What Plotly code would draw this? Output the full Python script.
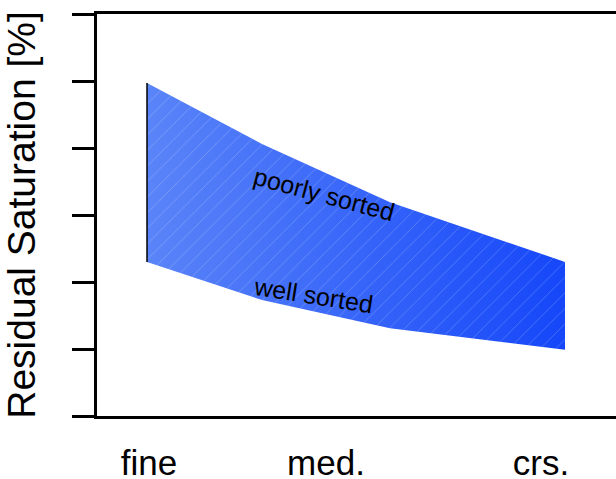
import plotly.graph_objects as go

# grain size position (arbitrary units) and residual saturation
grain_x = [0.5, 1.65, 2.93, 4.68]
poorly_sorted = [4.97, 4.06, 3.19, 2.30]
well_sorted = [2.30, 1.73, 1.31, 0.99]

tick_pos = [0.52, 2.29, 4.44]
tick_text = ["fine", "med.", "crs."]

FONT = "Arial, Liberation Sans, sans-serif"

band_x = grain_x + grain_x[::-1]
band_y = poorly_sorted + well_sorted[::-1]

fig = go.Figure()

# gradient filled band
fig.add_trace(go.Scatter(
    x=band_x, y=band_y,
    mode="lines",
    fill="toself",
    line=dict(width=0),
    fillgradient=dict(type="horizontal",
                      colorscale=[[0, "#5a84f8"], [1, "#1547f9"]]),
    hoverinfo="skip",
    showlegend=False
))

# faint hatching on top
fig.add_trace(go.Scatter(
    x=band_x, y=band_y,
    mode="lines",
    fill="toself",
    line=dict(width=0),
    fillcolor="rgba(0,0,0,0)",
    fillpattern=dict(shape="/", size=11, solidity=0.08,
                     fgcolor="rgba(255,255,255,0.45)",
                     bgcolor="rgba(0,0,0,0)", fillmode="overlay"),
    hoverinfo="skip",
    showlegend=False
))

# black left edge of the band
fig.add_trace(go.Scatter(
    x=[grain_x[0], grain_x[0]], y=[well_sorted[0], poorly_sorted[0]],
    mode="lines",
    line=dict(color="black", width=1.5),
    hoverinfo="skip",
    showlegend=False
))

fig.add_annotation(x=2.27, y=3.32, text="poorly sorted", showarrow=False,
                   textangle=15, font=dict(family=FONT, size=25, color="black"))
fig.add_annotation(x=2.16, y=1.80, text="well sorted", showarrow=False,
                   textangle=9, font=dict(family=FONT, size=25, color="black"))

fig.update_xaxes(
    range=[0, 5.19],
    showline=True, linecolor="black", linewidth=3, mirror=True,
    showgrid=False, zeroline=False,
    ticks="", tickmode="array", tickvals=tick_pos, ticktext=tick_text,
    ticklabelstandoff=14,
    tickfont=dict(family=FONT, size=35, color="black")
)
fig.update_yaxes(
    range=[0, 6],
    showline=True, linecolor="black", linewidth=3,
    showgrid=False, zeroline=False,
    ticks="outside", ticklen=22, tickwidth=3, tickcolor="black",
    dtick=1, showticklabels=False,
    title=dict(text="Residual Saturation [%]", standoff=31,
               font=dict(family=FONT, size=39, color="black"))
)

# plot area runs on past the right edge, like the original
fig.update_layout(
    width=616, height=479,
    margin=dict(l=97, r=0, t=14, b=63, autoexpand=False),
    plot_bgcolor="white", paper_bgcolor="white"
)

# drop the default body margin so the figure fills the window exactly
fig.write_html("out.html",
               config={"displayModeBar": False},
               post_script="document.body.style.margin='0';document.body.style.overflow='hidden';")
